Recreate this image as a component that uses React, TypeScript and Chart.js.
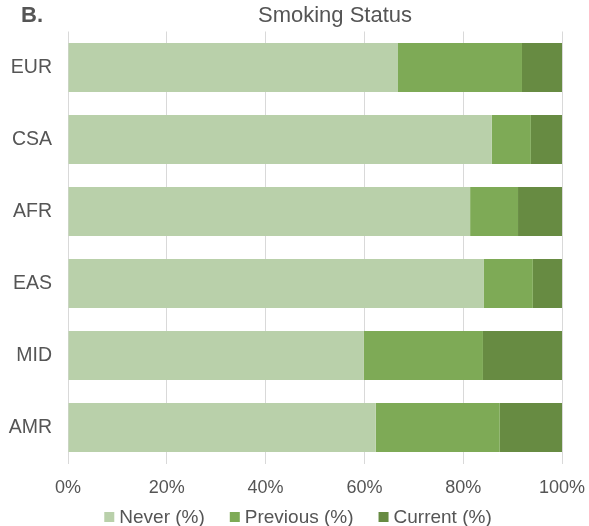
import React, { useEffect, useRef } from "react";
import { Chart, registerables } from "chart.js";

Chart.register(...registerables);

const categories = ["EUR", "CSA", "AFR", "EAS", "MID", "AMR"];
const neverPct = [66.8, 85.8, 81.4, 84.2, 59.9, 62.3];
const previousPct = [25.1, 7.9, 9.7, 9.9, 24.1, 25.1];
const currentPct = [8.1, 6.3, 8.9, 5.9, 16.0, 12.6];
const seriesNames = ["Never (%)", "Previous (%)", "Current (%)"];
const seriesColors = ["#b9d0aa", "#7eaa56", "#678b42"];
const xTicks = [0, 20, 40, 60, 80, 100];

const FONT = "'Liberation Sans', Arial, Helvetica, sans-serif";
const TEXT = "#555555";

const overlayPlugin = {
  id: "overlay",
  afterDraw(chart: any) {
    const ctx = chart.ctx;
    ctx.save();
    ctx.fillStyle = TEXT;
    ctx.textBaseline = "middle";
    // panel letter
    ctx.font = `bold 22px ${FONT}`;
    ctx.textAlign = "left";
    ctx.fillText("B.", 21, 16);
    // title
    ctx.font = `22px ${FONT}`;
    ctx.textAlign = "center";
    ctx.fillText("Smoking Status", 335, 16);
    // legend
    ctx.font = `19px ${FONT}`;
    ctx.textAlign = "left";
    const box = 10;
    const gap = 5;
    const itemGap = 25;
    const widths = seriesNames.map((n) => box + gap + ctx.measureText(n).width);
    const total = widths.reduce((a, b) => a + b, 0) + itemGap * (widths.length - 1);
    let x = 298 - total / 2;
    const y = 517;
    seriesNames.forEach((n, i) => {
      ctx.fillStyle = seriesColors[i];
      ctx.fillRect(x, y - box / 2, box, box);
      ctx.fillStyle = TEXT;
      ctx.fillText(n, x + box + gap, y + 1);
      x += widths[i] + itemGap;
    });
    ctx.restore();
  },
};

export default function App() {
  const ref = useRef<HTMLCanvasElement>(null);
  useEffect(() => {
    if (!ref.current) return;
    const chart = new Chart(ref.current, {
      type: "bar",
      data: {
        labels: categories,
        datasets: [neverPct, previousPct, currentPct].map((d, i) => ({
          label: seriesNames[i],
          data: d,
          backgroundColor: seriesColors[i],
          borderWidth: 0,
          barPercentage: 0.68,
          categoryPercentage: 1,
        })),
      },
      options: {
        indexAxis: "y",
        animation: false,
        responsive: false,
        devicePixelRatio: 1,
        layout: { padding: { top: 31.5, right: 27, left: 0, bottom: 0 } },
        plugins: {
          legend: { display: false },
          title: { display: false },
          tooltip: { enabled: false },
        },
        scales: {
          x: {
            stacked: true,
            min: 0,
            max: 100,
            afterFit: (s: any) => {
              s.height = 62.5;
              s.paddingLeft = 0;
              s.paddingRight = 0;
            },
            afterBuildTicks: (s: any) => {
              s.ticks = xTicks.map((v) => ({ value: v }));
            },
            grid: { color: "#d9d9d9", drawTicks: false, lineWidth: 1 },
            border: { display: false },
            ticks: {
              padding: 14,
              color: TEXT,
              font: { family: FONT, size: 18 },
              callback: (v: any) => `${v}%`,
              maxRotation: 0,
            },
          },
          y: {
            stacked: true,
            afterFit: (s: any) => {
              s.width = 68;
              s.paddingTop = 0;
              s.paddingBottom = 0;
            },
            grid: { display: false, drawTicks: false },
            border: { display: false },
            ticks: {
              padding: 16,
              color: TEXT,
              font: { family: FONT, size: 19.5 },
            },
          },
        },
      },
      plugins: [overlayPlugin],
    });
    return () => chart.destroy();
  }, []);
  return (
    <div style={{ position: "absolute", left: 0, top: 0, width: 589, height: 526, background: "#fff" }}>
      <canvas ref={ref} width={589} height={526} style={{ width: 589, height: 526 }} />
    </div>
  );
}
